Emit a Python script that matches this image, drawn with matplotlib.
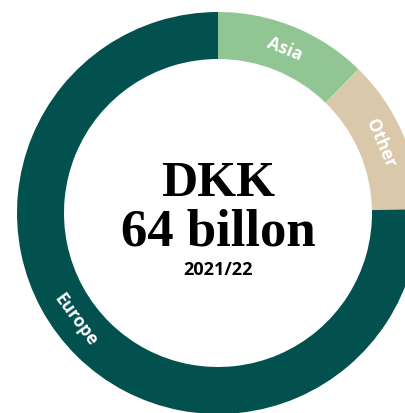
import matplotlib
matplotlib.use("Agg")
import matplotlib.pyplot as plt
import numpy as np

regions = ["Asia", "Other", "Europe"]
shares = [12.3, 12.4, 75.3]
colors = ["#91c593", "#d9c9aa", "#03514e"]
title_lines = ["DKK", "64 billon"]
subtitle = "2021/22"

W, H = 405, 414
fig = plt.figure(figsize=(W / 100, H / 100), dpi=100)
ax = fig.add_axes([0, 0, 1, 1])

cx, cy = 218, H - 214
R, ring = 201, 47
ax.pie(shares, colors=colors, radius=R, center=(cx, cy),
       startangle=90, counterclock=False,
       wedgeprops=dict(width=ring, linewidth=0), frame=True)
ax.set_xlim(0, W)
ax.set_ylim(0, H)
ax.set_aspect("equal")
ax.axis("off")

rm = R - ring / 2
label_angles = {"Asia": 22.0, "Other": 66.7, "Europe": 233.5}
for name in regions:
    a = label_angles[name]
    th = np.deg2rad(90 - a)
    x = cx + rm * np.cos(th)
    y = cy + rm * np.sin(th)
    rot = np.rad2deg(th) - 90
    if name == "Europe":
        rot = np.rad2deg(th) + 90
    ax.text(x, y, name, color="white", fontsize=12.5, fontweight="bold",
            family="Open Sans", ha="center", va="center", rotation=rot,
            rotation_mode="anchor")

ax.text(cx, H - 196, title_lines[0], fontsize=36, fontweight="bold",
        family="Liberation Serif", ha="center", va="baseline", color="black")
ax.text(cx, H - 246, title_lines[1], fontsize=38, fontweight="bold",
        family="Liberation Serif", ha="center", va="baseline", color="black")
ax.text(cx, H - 275, subtitle, fontsize=13, fontweight="bold",
        family="Open Sans", ha="center", va="baseline", color="black")

fig.savefig("out.png", dpi=100)
